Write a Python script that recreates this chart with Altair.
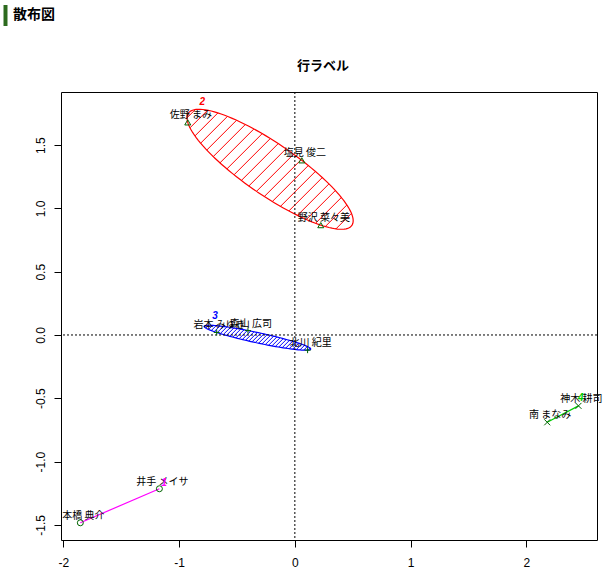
import altair as alt
import numpy as np
import pandas as pd

# ---- data ----
names = ["本橋 典介", "井手 メイサ", "佐野 まみ", "塩見 俊二", "野沢 菜々美",
         "岩本 みゆき", "森山 広司", "北川 紀里", "神木 耕司", "南 まなみ"]
xs = [-1.853, -1.17, -0.925, 0.06, 0.224, -0.675, -0.405, 0.11, 2.45, 2.18]
ys = [-1.484, -1.215, 1.68, 1.38, 0.868, 0.02, 0.035, -0.12, -0.56, -0.69]
clusters = ["1", "1", "2", "2", "2", "3", "3", "3", "4", "4"]

cluster_ids = ["1", "2", "3", "4"]
cluster_colors = ["#FF00FF", "#FF0000", "#0000FF", "#00CD00"]
cluster_label_x = [-1.13, -0.80, -0.69, 2.47]
cluster_label_y = [-1.17, 1.84, 0.15, -0.50]
hatch_spacing = [0, 13, 4, 0]   # px between shading lines (0 = none)

x_ticks = [-2, -1, 0, 1, 2]
y_ticks = [-1.5, -1.0, -0.5, 0.0, 0.5, 1.0, 1.5]
heading = "散布図"
title = "行ラベル"

# ---- layout ----
W, H = 536, 448
XDOM = [-2.02, 2.61]
YDOM = [-1.62, 1.92]
SX = W / (XDOM[1] - XDOM[0])
SY = H / (YDOM[1] - YDOM[0])

pts = pd.DataFrame({"name": names, "x": xs, "y": ys, "cluster": clusters})

# ---- ellipses (minimum-volume enclosing ellipse of each cluster) ----
outline_rows = []
hatch_rows = []
for cid, sp in zip(cluster_ids, hatch_spacing):
    sub = pts[pts.cluster == cid]
    P = sub[["x", "y"]].to_numpy()
    if len(P) == 2:
        for i, (px, py) in enumerate(P):
            outline_rows.append({"x": px, "y": py, "cluster": cid, "o": i})
        continue
    c = P.mean(0)
    D = P - c
    M = 2 * (D.T @ D) / len(P)
    vals, vecs = np.linalg.eigh(M)
    L = vecs @ np.diag(np.sqrt(vals))
    for i, t in enumerate(np.linspace(0, 2 * np.pi, 121)):
        q = c + L @ np.array([np.cos(t), np.sin(t)])
        outline_rows.append({"x": q[0], "y": q[1], "cluster": cid, "o": i})
    if sp > 0:
        S = np.diag([SX, -SY])
        cs = S @ c
        Ms = S @ M @ S
        A = np.linalg.inv(Ms)
        one = np.array([1.0, 1.0])
        half = np.sqrt(one @ Ms @ one)
        kc = one @ cs
        k = np.ceil((kc - half) / sp) * sp
        a = np.array([1.0, -1.0])
        while k < kc + half:
            b = np.array([-cs[0], k - cs[1]])
            qa = a @ A @ a
            qb = 2 * (a @ A @ b)
            qc = b @ A @ b - 1
            disc = qb * qb - 4 * qa * qc
            if disc > 0:
                t1 = (-qb - np.sqrt(disc)) / (2 * qa)
                t2 = (-qb + np.sqrt(disc)) / (2 * qa)
                u1, v1 = t1, k - t1
                u2, v2 = t2, k - t2
                hatch_rows.append({"x": u1 / SX, "y": -v1 / SY,
                                   "x2": u2 / SX, "y2": -v2 / SY, "cluster": cid})
            k += sp

outline = pd.DataFrame(outline_rows)
hatch = pd.DataFrame(hatch_rows)

xscale = alt.Scale(domain=XDOM, nice=False, zero=False)
yscale = alt.Scale(domain=YDOM, nice=False, zero=False)
xaxis = alt.Axis(values=x_ticks, title=None, grid=False, domain=False, tickSize=7,
                 tickColor="black", labelColor="black", labelFont="Liberation Sans",
                 labelFontSize=12, labelPadding=10,
                 labelExpr="replace(datum.label, '\u2212', '-')")
yaxis = alt.Axis(values=y_ticks, title=None, grid=False, domain=False, tickSize=7,
                 tickColor="black", labelColor="black", labelFont="Liberation Sans",
                 labelFontSize=12, labelPadding=7, labelAngle=270, format=".1f",
                 labelAlign="center", labelBaseline="bottom",
                 labelExpr="replace(datum.label, '\u2212', '-')")
X = alt.X("x:Q", scale=xscale, axis=xaxis)
Y = alt.Y("y:Q", scale=yscale, axis=yaxis)
color = alt.Color("cluster:N", scale=alt.Scale(domain=cluster_ids, range=cluster_colors),
                  legend=None)

hatch_layer = alt.Chart(hatch).mark_rule(strokeWidth=1).encode(
    x=X, y=Y, x2="x2:Q", y2="y2:Q", color=color)

outline_layer = alt.Chart(outline).mark_line(strokeWidth=1.2).encode(
    x=X, y=Y, detail="cluster:N", order="o:Q", color=color)

zero_v = alt.Chart(pd.DataFrame({"x": [0]})).mark_rule(
    color="black", strokeDash=[2, 2], strokeWidth=1).encode(x=X)
zero_h = alt.Chart(pd.DataFrame({"y": [0]})).mark_rule(
    color="black", strokeDash=[2, 2], strokeWidth=1).encode(y=Y)

plus_path = "M-1,0L1,0M0,-1L0,1"
x_path = "M-1,-1L1,1M-1,1L1,-1"
points_layer = alt.Chart(pts).mark_point(
    filled=False, color="#006400", strokeWidth=1, size=36, opacity=1).encode(
    x=X, y=Y,
    shape=alt.Shape("cluster:N", scale=alt.Scale(
        domain=cluster_ids, range=["circle", "triangle-up", plus_path, x_path]),
        legend=None))

labels_layer = alt.Chart(pts).mark_text(
    font="Noto Sans CJK JP", fontSize=10, color="black", align="center",
    baseline="bottom", dx=3, dy=-2).encode(x=X, y=Y, text="name:N")

clab = pd.DataFrame({"x": cluster_label_x, "y": cluster_label_y,
                     "cluster": cluster_ids})
clab_layer = alt.Chart(clab).mark_text(
    font="Liberation Sans", fontSize=10, fontWeight="bold", fontStyle="italic",
    align="center", baseline="middle").encode(x=X, y=Y, text="cluster:N", color=color)

head_bar = alt.Chart(pd.DataFrame({"a": [0]})).mark_rule(
    color="#2d6a1e", strokeWidth=4).encode(
    x=alt.value(-55.5), y=alt.value(-87), y2=alt.value(-66))
head_text = alt.Chart(pd.DataFrame({"t": [heading]})).mark_text(
    font="Noto Sans CJK JP", fontSize=14, fontWeight="bold", color="black",
    align="left", baseline="middle").encode(
    x=alt.value(-48), y=alt.value(-77), text="t:N")
title_text = alt.Chart(pd.DataFrame({"t": [title]})).mark_text(
    font="Noto Sans CJK JP", fontSize=13, fontWeight="bold", color="black",
    align="center", baseline="middle").encode(
    x=alt.value(262), y=alt.value(-26), text="t:N")

chart = alt.layer(
    hatch_layer, outline_layer, zero_v, zero_h, points_layer, labels_layer,
    clab_layer, head_bar, head_text, title_text
).properties(
    width=W, height=H,
    autosize=alt.AutoSizeParams(type="none"),
    padding={"left": 61, "top": 92, "right": 13, "bottom": 32},
    background="white",
).configure_view(stroke="black", strokeWidth=1)

chart.save("out.html", embed_options={"renderer": "svg", "actions": False})
